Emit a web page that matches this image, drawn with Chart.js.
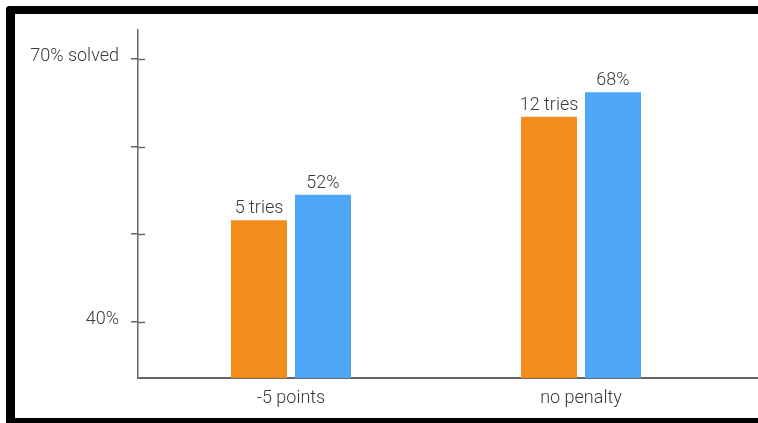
<!DOCTYPE html>
<html>
<head>
<meta charset="utf-8">
<script src="https://cdn.jsdelivr.net/npm/chart.js@4"></script>
<style>
  html, body { margin: 0; padding: 0; background: #fff; width: 758px; height: 423px; overflow: hidden; }
  #frame { position: absolute; left: 6px; top: 6px; width: 800px; height: 422px; box-sizing: border-box;
           border-left: 9px solid #000; border-top: 8px solid #000; border-bottom: 10px solid #000;
           border-top-left-radius: 4px; background: #fff; }
  #c { position: absolute; left: 0; top: 0; z-index: 1; }
</style>
</head>
<body>
<div id="frame"></div>
<canvas id="c" width="758" height="423"></canvas>
<script>
// ---- data ----
const categories = ['-5 points', 'no penalty'];
const orangeValues = [51.6, 63.4];
const blueValues = [54.5, 66.2];
const orangeLabels = ['5 tries', '12 tries'];
const blueLabels = ['52%', '68%'];
const yTickValues = [40, 50, 60, 70];
const yTickLabels = ['40%', '', '', '70% solved'];

const FONT = "'Roboto', 'Liberation Sans', Arial, sans-serif";
const TEXT = '#3a3a3a';
const AXIS = '#666666';

const valueLabels = {
  id: 'valueLabels',
  afterDatasetsDraw(chart) {
    const ctx = chart.ctx;
    const all = [orangeLabels, blueLabels];
    ctx.save();
    ctx.font = '300 18px ' + FONT;
    ctx.fillStyle = TEXT;
    ctx.textAlign = 'center';
    ctx.textBaseline = 'alphabetic';
    chart.data.datasets.forEach((ds, di) => {
      chart.getDatasetMeta(di).data.forEach((bar, i) => {
        ctx.fillText(all[di][i], bar.x, bar.y - 7);
      });
    });
    ctx.restore();
  }
};

const innerTicks = {
  id: 'innerTicks',
  afterDraw(chart) {
    const ctx = chart.ctx;
    const y = chart.scales.y;
    const left = chart.chartArea.left;
    ctx.save();
    ctx.strokeStyle = AXIS;
    ctx.lineWidth = 1.5;
    yTickValues.forEach(v => {
      const py = Math.round(y.getPixelForValue(v)) + 0.5;
      ctx.beginPath();
      ctx.moveTo(left, py);
      ctx.lineTo(left + 7, py);
      ctx.stroke();
    });
    ctx.restore();
  }
};

new Chart(document.getElementById('c'), {
  type: 'bar',
  data: {
    datasets: [
      { data: orangeValues.map((v, i) => ({ x: i + 1, y: v })), backgroundColor: '#F28D1B',
        categoryPercentage: 0.4414, barPercentage: 0.875 },
      { data: blueValues.map((v, i) => ({ x: i + 1, y: v })), backgroundColor: '#4EA7F5',
        categoryPercentage: 0.4414, barPercentage: 0.875 }
    ]
  },
  options: {
    responsive: false,
    animation: false,
    devicePixelRatio: 1,
    layout: { padding: { top: 30, left: 0, right: 0, bottom: 0 } },
    plugins: { legend: { display: false }, tooltip: { enabled: false } },
    scales: {
      x: {
        type: 'linear',
        offset: false,
        min: 0.4724,
        max: 2.6103,
        afterBuildTicks: (s) => { s.ticks = categories.map((c, i) => ({ value: i + 1 })); },
        afterFit: (s) => { s.height = 45; },
        grid: { display: false, drawTicks: false, offset: false },
        border: { display: true, color: AXIS, width: 2 },
        ticks: {
          callback: (v, i) => categories[i],
          padding: 10,
          color: TEXT,
          font: { family: FONT, size: 18, weight: 300 },
          maxRotation: 0
        }
      },
      y: {
        type: 'linear',
        min: 33.6,
        max: 73.3,
        afterBuildTicks: (s) => { s.ticks = yTickValues.map(v => ({ value: v })); },
        afterFit: (s) => { s.width = 138; },
        grid: { drawOnChartArea: false, drawTicks: true, tickLength: 7, color: AXIS, lineWidth: 1.5 },
        border: { display: true, color: AXIS, width: 1.5 },
        ticks: {
          callback: (v, i) => yTickLabels[i],
          padding: 12,
          labelOffset: -2,
          color: TEXT,
          font: { family: FONT, size: 18, weight: 300 }
        }
      }
    }
  },
  plugins: [valueLabels, innerTicks]
});
</script>
</body>
</html>
